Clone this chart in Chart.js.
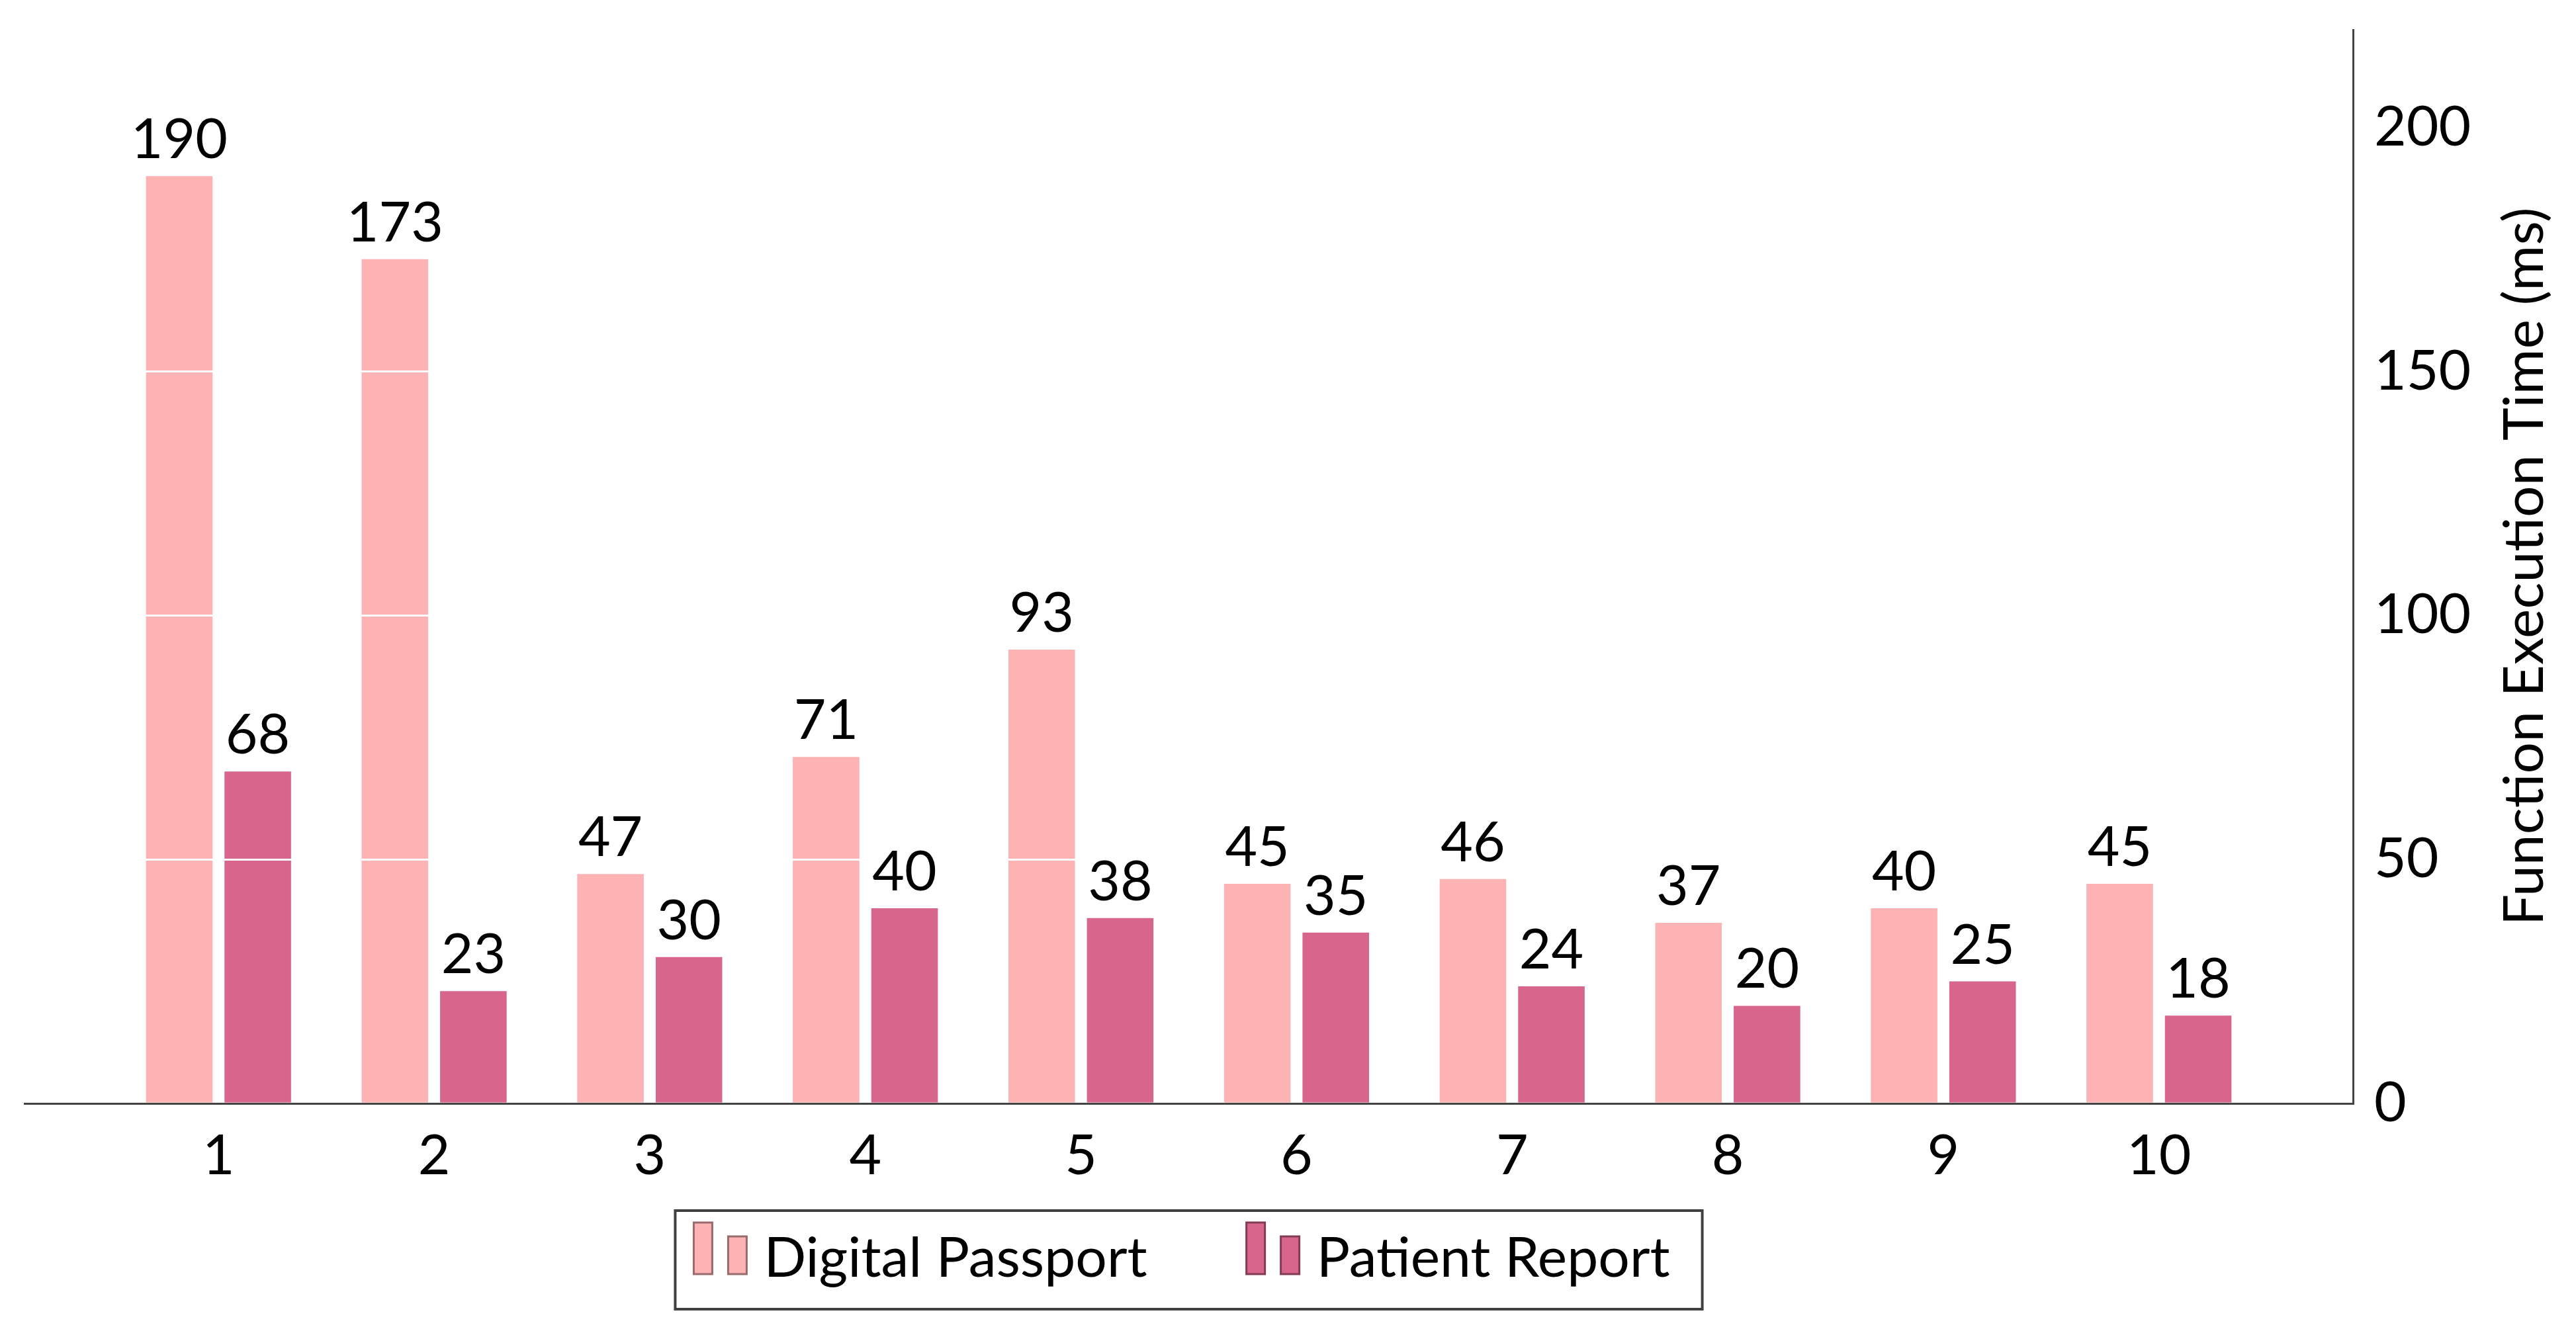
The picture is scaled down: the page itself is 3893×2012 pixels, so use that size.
<!DOCTYPE html>
<html>
<head>
<meta charset="utf-8">
<script src="https://cdn.jsdelivr.net/npm/chart.js@4.4.1/dist/chart.umd.min.js"></script>
<style>
  html, body { margin: 0; padding: 0; background: #fff; }
  #wrap { width: 3893px; height: 2012px; }
</style>
</head>
<body>
<div id="wrap"><canvas id="grafico"></canvas></div>
<script>
// datos
const runs = [1, 2, 3, 4, 5, 6, 7, 8, 9, 10];
const digitalPassport = [190, 173, 47, 71, 93, 45, 46, 37, 40, 45];
const patientReport = [68, 23, 30, 40, 38, 35, 24, 20, 25, 18];
const yTicks = [0, 50, 100, 150, 200];
const seriesNames = ['Digital Passport', 'Patient Report'];
const yTitle = 'Function Execution Time (ms)';

const FONT = "Lato, 'DejaVu Sans', sans-serif";
const FS = 84;
const rosa = '#fdb2b4';
const rosaOscuro = '#d8658b';

// etiquetas de valor, título del eje y leyenda (dibujados al final)
const extras = {
  id: 'extras',
  afterDraw(chart) {
    const c = chart.ctx;
    const area = chart.chartArea;
    c.save();
    c.font = FS + 'px ' + FONT;
    c.fillStyle = '#000';

    // valores encima de las barras
    c.textAlign = 'center';
    c.textBaseline = 'alphabetic';
    chart.data.datasets.forEach((ds, i) => {
      chart.getDatasetMeta(i).data.forEach((bar, j) => {
        c.fillText(String(ds.data[j].y), bar.x, bar.y - 27);
      });
    });

    // título del eje derecho, leído de abajo hacia arriba
    c.save();
    c.translate(chart.width - 77, (area.top + area.bottom) / 2);
    c.rotate(-Math.PI / 2);
    c.textBaseline = 'middle';
    c.fillText(yTitle, 0, 0);
    c.restore();

    // leyenda con caja
    const padL = 28, mw = 28, mgap = 24, tgap = 26, entryGap = 150, padR = 49;
    const widths = seriesNames.map(n => c.measureText(n).width);
    let boxW = padL + padR + entryGap * (seriesNames.length - 1);
    widths.forEach(w => { boxW += 2 * mw + mgap + tgap + w; });
    const boxH = 149;
    const boxX = (area.left + area.right) / 2 - boxW / 2;
    const boxY = area.bottom + 162;
    c.lineWidth = 4;
    c.strokeStyle = '#404040';
    c.strokeRect(boxX, boxY, boxW, boxH);

    let x = boxX + padL;
    const base = boxY + 96;
    c.textAlign = 'left';
    chart.data.datasets.forEach((ds, i) => {
      c.fillStyle = ds.backgroundColor;
      c.strokeStyle = ds.legendBorder;
      c.lineWidth = 3;
      c.fillRect(x, base - 78, mw, 78);
      c.strokeRect(x, base - 78, mw, 78);
      c.fillRect(x + mw + mgap, base - 57, mw, 57);
      c.strokeRect(x + mw + mgap, base - 57, mw, 57);
      x += 2 * mw + mgap + tgap;
      c.fillStyle = '#000';
      c.fillText(seriesNames[i], x, boxY + 100);
      x += widths[i] + entryGap;
    });
    c.restore();
  }
};

new Chart(document.getElementById('grafico'), {
  type: 'bar',
  data: {
    datasets: [
      {
        label: seriesNames[0],
        data: runs.map((r, i) => ({ x: r, y: digitalPassport[i] })),
        backgroundColor: rosa,
        legendBorder: '#986b6c',
        categoryPercentage: 0.728,
        barPercentage: 0.848
      },
      {
        label: seriesNames[1],
        data: runs.map((r, i) => ({ x: r, y: patientReport[i] })),
        backgroundColor: rosaOscuro,
        legendBorder: '#823d53',
        categoryPercentage: 0.728,
        barPercentage: 0.848
      }
    ]
  },
  options: {
    responsive: true,
    maintainAspectRatio: false,
    animation: false,
    layout: { padding: { left: 37, top: 45, right: 0, bottom: 0 } },
    plugins: {
      legend: { display: false },
      tooltip: { enabled: false }
    },
    scales: {
      x: {
        type: 'linear',
        min: 0.1,
        max: 10.9,
        offset: false,
        afterBuildTicks: s => { s.ticks = runs.map(v => ({ value: v })); },
        afterFit: s => { s.height = 344; s.paddingLeft = 0; s.paddingRight = 0; },
        grid: { display: false, drawTicks: false, offset: false },
        border: { display: true, color: '#444', width: 3 },
        ticks: { color: '#000', padding: 30, maxRotation: 0, font: { family: FONT, size: FS } }
      },
      y: {
        position: 'right',
        min: 0,
        max: 220,
        afterBuildTicks: s => { s.ticks = yTicks.map(v => ({ value: v })); },
        afterFit: s => { s.width = 337; s.paddingTop = 0; s.paddingBottom = 0; },
        grid: {
          z: 1,
          drawTicks: false,
          lineWidth: 3,
          color: ctx => (ctx.tick && ctx.tick.value === 0) ? 'rgba(0,0,0,0)' : '#ffffff'
        },
        border: { display: true, z: 1, color: '#444', width: 3 },
        ticks: { color: '#000', padding: 32, font: { family: FONT, size: FS } }
      }
    }
  },
  plugins: [extras]
});
</script>
</body>
</html>
